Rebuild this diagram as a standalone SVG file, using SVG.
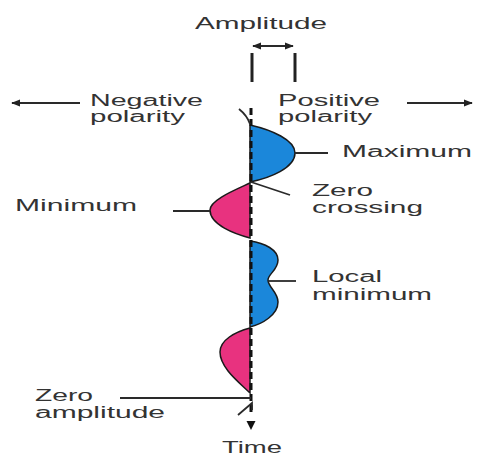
<svg xmlns="http://www.w3.org/2000/svg" width="478" height="457" viewBox="0 0 478 457">
<defs>
<style>
.t{font-family:"Liberation Sans",Arial,sans-serif;font-size:16px;fill:#333}
.ln{stroke:#2a2a2a;stroke-width:1.8;fill:none}
.blue{fill:#1b87da;stroke:#1a1a1a;stroke-width:1.5}
.pink{fill:#e8327f;stroke:#1a1a1a;stroke-width:1.5}
.axis{stroke:#111;stroke-width:3;stroke-dasharray:7 4;fill:none}
</style>
<marker id="ah" viewBox="0 0 10 10" refX="9" refY="5" markerWidth="5" markerHeight="5" orient="auto-start-reverse">
<path d="M0,1 L10,5 L0,9 Z" fill="#222"/>
</marker>
</defs>
<rect width="478" height="457" fill="#fff"/>

<g id="lobes">
<path id="lobe-max" class="blue" d="M250,125 C272,130 295,140 295,153 C295,168 270,178 250,182 Z"/>
<path id="lobe-min" class="pink" d="M250,183 C235,190 210,200 210,210 C210,225 235,234 250,238 Z"/>
<path id="lobe-local" class="blue" d="M250,241 C265,243 278,250 278,260 C278,270 268,274 268,280 C268,287 278,292 278,302 C278,315 262,324 250,327 Z"/>
<path id="lobe-min2" class="pink" d="M250,328 C235,332 220,340 220,352 C220,368 240,383 250,393 Z"/>
</g>

<g id="connectors">
<line class="axis" x1="251" y1="108" x2="251" y2="413"/>
<path d="M246.5,421 L255.5,421 L251,430 Z" fill="#111"/>
<path class="ln" d="M239,109 C244,113 248,118 250,124"/>
<path class="ln" d="M238,415 L252,403 L252,410"/>
<line class="ln" x1="80" y1="103" x2="12" y2="103" marker-end="url(#ah)"/>
<line class="ln" x1="407" y1="103" x2="472" y2="103" marker-end="url(#ah)"/>
<line class="ln" x1="253" y1="46" x2="293" y2="46" marker-start="url(#ah)" marker-end="url(#ah)"/>
<line stroke="#222" stroke-width="3" x1="252" y1="53" x2="252" y2="82"/>
<line stroke="#222" stroke-width="3" x1="295" y1="53" x2="295" y2="82"/>
<line class="ln" x1="295" y1="153" x2="328" y2="153"/>
<line class="ln" x1="251" y1="182" x2="290" y2="195"/>
<line class="ln" x1="173" y1="211" x2="210" y2="211"/>
<line class="ln" x1="268" y1="281" x2="296" y2="281"/>
<line class="ln" x1="120" y1="398" x2="251" y2="398"/>
</g>

<g id="labels">
<g id="amplitude"><text class="t" x="195" y="29" textLength="132" lengthAdjust="spacingAndGlyphs">Amplitude</text></g>
<g id="negative"><text class="t" x="90" y="106" textLength="113" lengthAdjust="spacingAndGlyphs">Negative</text>
<text class="t" x="90" y="122" textLength="95" lengthAdjust="spacingAndGlyphs">polarity</text></g>
<g id="positive"><text class="t" x="278" y="106" textLength="102" lengthAdjust="spacingAndGlyphs">Positive</text>
<text class="t" x="278" y="122" textLength="94" lengthAdjust="spacingAndGlyphs">polarity</text></g>
<g id="maximum"><text class="t" x="342" y="157" textLength="130" lengthAdjust="spacingAndGlyphs">Maximum</text></g>
<g id="zero-crossing"><text class="t" x="312" y="196" textLength="61" lengthAdjust="spacingAndGlyphs">Zero</text>
<text class="t" x="312" y="213" textLength="111" lengthAdjust="spacingAndGlyphs">crossing</text></g>
<g id="minimum"><text class="t" x="15" y="211" textLength="122" lengthAdjust="spacingAndGlyphs">Minimum</text></g>
<g id="local-minimum"><text class="t" x="312" y="282" textLength="70" lengthAdjust="spacingAndGlyphs">Local</text>
<text class="t" x="312" y="300" textLength="120" lengthAdjust="spacingAndGlyphs">minimum</text></g>
<g id="zero-amplitude"><text class="t" x="35" y="401" textLength="58" lengthAdjust="spacingAndGlyphs">Zero</text>
<text class="t" x="35" y="418" textLength="130" lengthAdjust="spacingAndGlyphs">amplitude</text></g>
<g id="time"><text class="t" x="222" y="453" textLength="60" lengthAdjust="spacingAndGlyphs">Time</text></g>
</g>
</svg>
